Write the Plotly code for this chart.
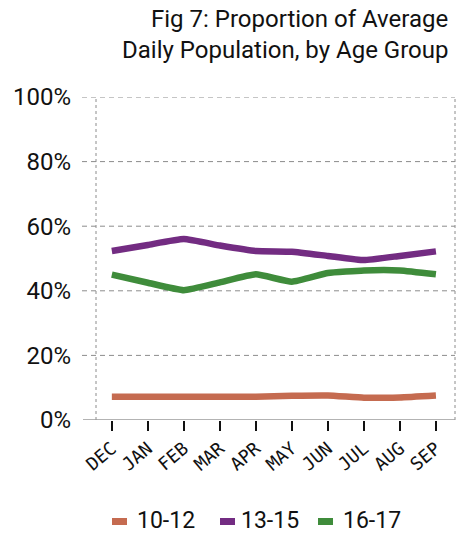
import plotly.graph_objects as go

months = ['DEC', 'JAN', 'FEB', 'MAR', 'APR', 'MAY', 'JUN', 'JUL', 'AUG', 'SEP']
age_10_12 = [7.2, 7.2, 7.2, 7.2, 7.2, 7.5, 7.6, 6.9, 7.0, 7.6]
age_13_15 = [52.3, 54.2, 56.0, 54.0, 52.3, 52.1, 50.8, 49.5, 50.8, 52.2]
age_16_17 = [45.0, 42.5, 40.2, 42.6, 45.1, 42.8, 45.5, 46.3, 46.3, 45.1]
y_ticks = [0, 20, 40, 60, 80, 100]
title_lines = ['Fig 7: Proportion of Average', 'Daily Population, by Age Group']

series = [('10-12', age_10_12, '#c56b50'),
          ('13-15', age_13_15, '#732c82'),
          ('16-17', age_16_17, '#3f8c3b')]

# the page body adds 8px on the left/top, so the figure is shrunk by that much
OFF = 8
W, H = 471 - OFF, 535 - OFF
L, R, T, B = 96 - OFF, 16, 97 - OFF, 115
pw, ph = W - L - R, H - T - B


def px_x(x):
    # window pixel -> paper x
    return (x - OFF - L) / pw


def px_y(y):
    # window pixel -> paper y
    return (H - B - (y - OFF)) / ph


fig = go.Figure()
for name, ys, color in series:
    fig.add_trace(go.Scatter(x=list(range(len(months))), y=ys, name=name,
                             mode='lines', showlegend=False,
                             line=dict(color=color, width=6.5, shape='spline', smoothing=0.4)))

# dashed gridlines that stick out a little to the left
for v in y_ticks[1:]:
    fig.add_shape(type='line', xref='paper', yref='y', x0=px_x(82), x1=1, y0=v, y1=v,
                  line=dict(color='#8c8c8c', width=1, dash='5px,4px'), layer='below')
# dotted side borders and solid baseline
for xp in [0, 1]:
    fig.add_shape(type='line', xref='paper', yref='paper', x0=xp, x1=xp, y0=0, y1=1,
                  line=dict(color='#8c8c8c', width=1, dash='dot'), layer='below')
fig.add_shape(type='line', xref='paper', yref='y', x0=px_x(83), x1=1, y0=0, y1=0,
              line=dict(color='#9a9a9a', width=1.5))

# hand made legend with short thick keys
legend_pos = [(112, 135), (220, 239), (318, 341)]
for (name, ys, color), (kx, tx) in zip(series, legend_pos):
    fig.add_shape(type='rect', xref='paper', yref='paper',
                  x0=px_x(kx), x1=px_x(kx + 15), y0=px_y(525), y1=px_y(518),
                  fillcolor=color, line=dict(width=0))
    fig.add_annotation(text=name, xref='paper', yref='paper', x=px_x(tx), y=px_y(520),
                       xanchor='left', yanchor='middle', showarrow=False,
                       font=dict(size=23, color='#111111'))

# title, one annotation per line
for line, ty in zip(title_lines, [19, 49.5]):
    fig.add_annotation(text=line, xref='paper', yref='paper', x=px_x(450), y=px_y(ty),
                       xanchor='right', yanchor='middle', showarrow=False,
                       font=dict(size=24, color='#111111'))

fig.update_layout(
    width=W, height=H,
    paper_bgcolor='white', plot_bgcolor='white',
    font=dict(family='Roboto, sans-serif', color='#111111'),
    margin=dict(l=L, r=R, t=T, b=B),
    showlegend=False,
    xaxis=dict(range=[-0.44, 9.53], tickmode='array',
               tickvals=list(range(len(months))), ticktext=months,
               tickangle=-40, ticks='outside', ticklen=10, tickwidth=2,
               tickcolor='#111111', showgrid=False, zeroline=False,
               showline=False, automargin=False,
               tickfont=dict(size=18, family='DejaVu Sans Mono', color='#111111')),
    yaxis=dict(range=[0, 100], tickvals=y_ticks,
               ticktext=[f'{v}%' for v in y_ticks],
               showgrid=False, zeroline=False, showline=False, ticks='',
               ticklabelstandoff=24, automargin=False,
               tickfont=dict(size=24)),
)

fig.write_html("out.html")
